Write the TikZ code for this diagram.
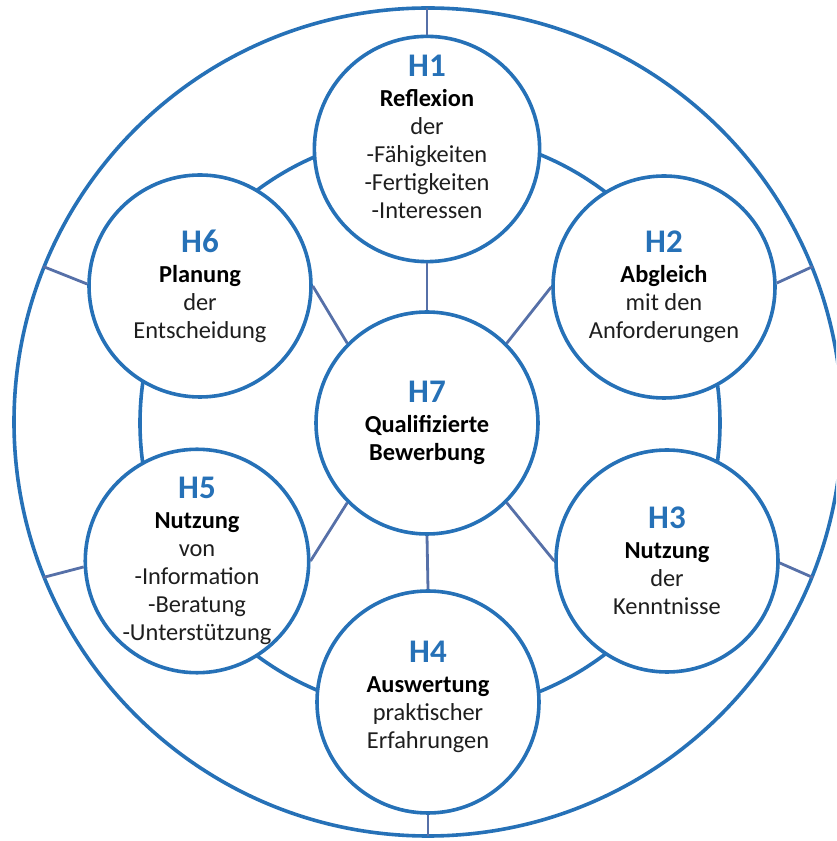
\documentclass[tikz,border=0pt]{standalone}
\usepackage{fontspec}
\setmainfont{Carlito}
\definecolor{ringblue}{RGB}{38,113,183}
\definecolor{spokeblue}{RGB}{86,112,168}
\definecolor{textgray}{RGB}{30,30,30}
\newcommand{\hnum}[1]{{\fontsize{16.5}{17}\selectfont\bfseries\color{ringblue}#1}}
\newcommand{\hhead}[1]{{\bfseries\color{black}#1}}

\begin{document}
\begin{tikzpicture}[x=0.5pt,y=0.5pt,
    hub/.style={circle,draw=ringblue,line width=1.8pt,fill=white,
      minimum size=111pt,inner sep=0pt,align=center,
      font=\fontsize{12.2}{14}\selectfont,text=textgray},
    spoke/.style={draw=spokeblue,line width=1.4pt}]
  \useasboundingbox (0,0) rectangle (836,841);
  \clip (0,0) rectangle (836,841);
  % outer frame and the ring running through the six outer circles;
  % the white circles below cover the ring where it passes behind them
  \draw[ringblue,line width=1.8pt] (428,419) circle (414);
  \draw[ringblue,line width=1.8pt] (430,418) circle (290);

  \node[hub,text depth=12pt] (h1) at (427,692)
    {\hnum{H1}\\[1pt]\hhead{Reflexion}\\der\\-Fähigkeiten\\-Fertigkeiten\\-Interessen};
  \node[hub] (h2) at (664,554)
    {\hnum{H2}\\[1pt]\hhead{Abgleich}\\mit den\\Anforderungen};
  \node[hub] (h3) at (667,280)
    {\hnum{H3}\\[1pt]\hhead{Nutzung}\\der\\Kenntnisse};
  \node[hub,text depth=7pt] (h4) at (428,139)
    {\hnum{H4}\\[1pt]\hhead{Auswertung}\\praktischer\\Erfahrungen};
  \node[hub] (h5) at (197,280)
    {\hnum{H5}\\[1pt]\hhead{Nutzung}\\von\\-Information\\-Beratung\\-Unterstützung};
  \node[hub] (h6) at (200,555)
    {\hnum{H6}\\[1pt]\hhead{Planung}\\der\\Entscheidung};
  \node[hub] (h7) at (427,418)
    {\hnum{H7}\\[1pt]\hhead{Qualifizierte}\\\hhead{Bewerbung}};

  % spokes from the middle circle
  \draw[spoke] (h7.north) -- (h1.south);
  \draw[spoke] (h7.45) -- (h2.180);
  \draw[spoke] (h7.-45) -- (h3.180);
  \draw[spoke] (h7.south) -- (h4.north);
  \draw[spoke] (h7.-135) -- (h5.0);
  \draw[spoke] (h7.135) -- (h6.0);

  % spokes out to the frame
  \coordinate (o1) at (427,833);
  \coordinate (o2) at ([shift={(428,419)}]22:415);
  \coordinate (o3) at ([shift={(428,419)}]-22:415);
  \coordinate (o4) at (428,5);
  \coordinate (o5) at ([shift={(428,419)}]202:415);
  \coordinate (o6) at ([shift={(428,419)}]158:415);
  \draw[spoke] (h1.north) -- (o1);
  \draw[spoke] (h2.2) -- (o2);
  \draw[spoke] (h3.-1) -- (o3);
  \draw[spoke] (h4.south) -- (o4);
  \draw[spoke] (h5.183) -- (o5);
  \draw[spoke] (h6.179) -- (o6);
\end{tikzpicture}
\end{document}
